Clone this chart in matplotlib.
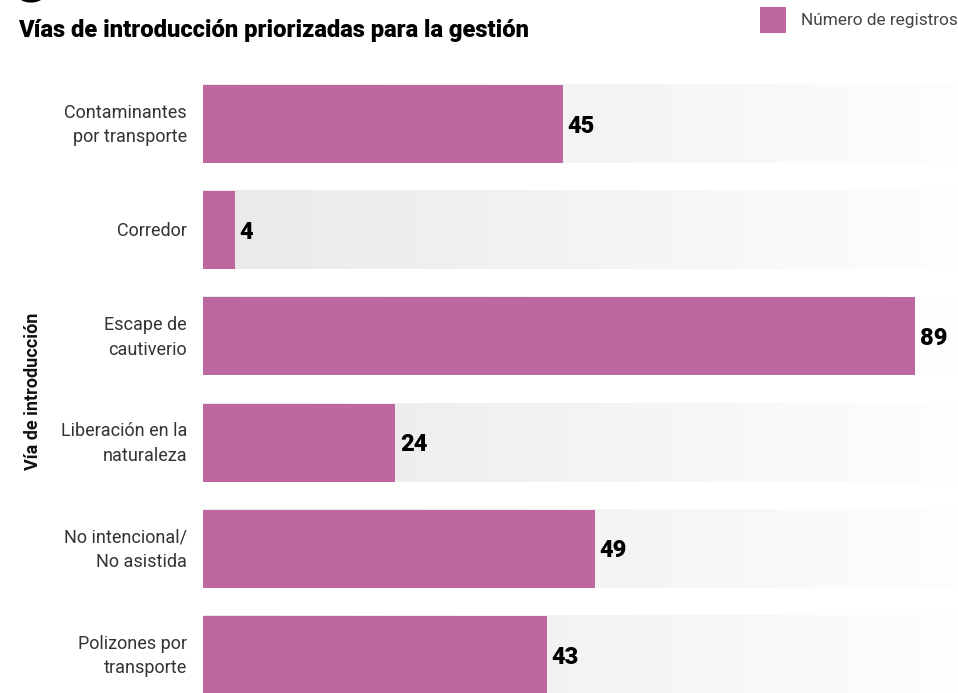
import matplotlib
matplotlib.use("Agg")
import matplotlib.pyplot as plt
import numpy as np
from matplotlib.colors import LinearSegmentedColormap
from matplotlib.patches import Circle, Rectangle

categories = ["Contaminantes\npor transporte", "Corredor", "Escape de\ncautiverio",
              "Liberación en la\nnaturaleza", "No intencional/\nNo asistida", "Polizones por\ntransporte"]
values = [45, 4, 89, 24, 49, 43]
title = "Vías de introducción priorizadas para la gestión"
ylabel = "Vía de introducción"
legend_label = "Número de registros"

bar_color = "#be68a0"
fam = ["Roboto", "DejaVu Sans"]

W, H = 958, 693
fig = plt.figure(figsize=(W / 100, H / 100), dpi=100)

# axes geometry (pixels)
x0, x1 = 203, 958
pitch = 106.2
top_row = 124
y_top = top_row - pitch / 2
y_bot = top_row + pitch * 5.5
ax = fig.add_axes([x0 / W, (H - y_bot) / H, (x1 - x0) / W, (y_bot - y_top) / H])
xmax = (x1 - x0) / 8.0
ax.axis("off")

bh = 0.735
cmap = LinearSegmentedColormap.from_list("g", ["#e9e9e9", "#fefefe"])
grad = np.linspace(0, 1, 256).reshape(1, -1)
for i, v in enumerate(values):
    ax.imshow(grad, cmap=cmap, aspect="auto", extent=[0, xmax, i + bh / 2, i - bh / 2],
              zorder=1, interpolation="bilinear")
ax.barh(range(len(values)), values, height=bh, color=bar_color, zorder=2)
ax.set_xlim(0, xmax)
ax.set_ylim(len(values) - 0.5, -0.5)

for i, v in enumerate(values):
    ax.text(v + 0.6, i + 0.02, str(v), ha="left", va="center", fontsize=17, fontweight="black",
            family=fam, color="#000000", zorder=3)
    fig.text(187 / W, 1 - (top_row + 1 + pitch * i) / H, categories[i], ha="right", va="center",
             fontsize=13, family=fam, color="#333333", linespacing=1.45)

fig.text(18 / W, 1 - 30 / H, title, ha="left", va="center", fontsize=17.1, fontweight="black",
         family=fam, color="#000000")
fig.text(33 / W, 1 - 391 / H, ylabel, ha="center", va="center", rotation=90, fontsize=13,
         fontweight="bold", family=fam, color="#111111")

# legend
fig.patches.append(Rectangle((760 / W, 1 - 33 / H), 26 / W, 26 / H, transform=fig.transFigure,
                             facecolor=bar_color, edgecolor="none"))
fig.text(801 / W, 1 - 20 / H, legend_label, ha="left", va="center", fontsize=12.4,
         family=fam, color="#444444")

# decorative circle cut off at top
fig.patches.append(Circle((31 / W, 1 + 9 / H), 16 / W, transform=fig.transFigure,
                          facecolor="#000000", edgecolor="none"))

fig.savefig("out.png", dpi=100)
